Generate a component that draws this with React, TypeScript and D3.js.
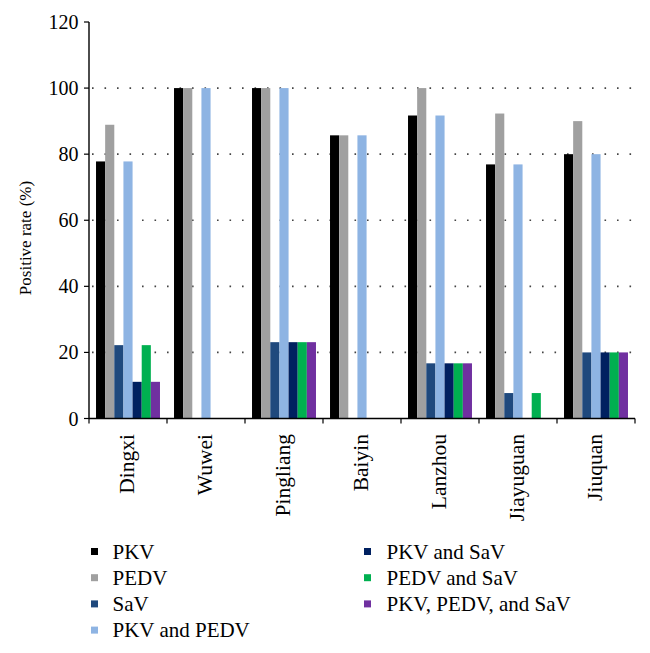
import React from "react";
import * as d3 from "d3";

const cities = ["Dingxi", "Wuwei", "Pingliang", "Baiyin", "Lanzhou", "Jiayuguan", "Jiuquan"];
const seriesNames = ["PKV", "PEDV", "SaV", "PKV and PEDV", "PKV and SaV", "PEDV and SaV", "PKV, PEDV, and SaV"];
const seriesColors = ["#000000", "#a0a0a0", "#1f497d", "#8eb4e3", "#002060", "#00b050", "#7030a0"];

const pkv = [77.8, 100, 100, 85.7, 91.7, 76.9, 80];
const pedv = [88.9, 100, 100, 85.7, 100, 92.3, 90];
const sav = [22.2, 0, 23.1, 0, 16.7, 7.7, 20];
const pkvPedv = [77.8, 100, 100, 85.7, 91.7, 76.9, 80];
const pkvSav = [11.1, 0, 23.1, 0, 16.7, 0, 20];
const pedvSav = [22.2, 0, 23.1, 0, 16.7, 7.7, 20];
const triple = [11.1, 0, 23.1, 0, 16.7, 0, 20];

const yTicks = [0, 20, 40, 60, 80, 100, 120];
const gridTicks = [20, 40, 60, 80, 100];

const seriesValues = [pkv, pedv, sav, pkvPedv, pkvSav, pedvSav, triple];

const W = 650;
const H = 653;
const X0 = 89;
const X1 = 635;
const YTOP = 22;
const YBOT = 418.5;
const FONT = '"Liberation Serif", "Times New Roman", serif';

export default function App() {
  const x = d3.scaleBand<string>().domain(cities).range([X0, X1]).paddingInner(0.18).paddingOuter(0.09);
  const xInner = d3.scaleBand<string>().domain(seriesNames).range([0, x.bandwidth()]).padding(0);
  const y = d3.scaleLinear().domain([0, 120]).range([YBOT, YTOP]);
  const step = x.step();
  const boundaries = d3.range(cities.length + 1).map((i) => X0 + i * step);

  const legendLeft = seriesNames.slice(0, 4);
  const legendRight = seriesNames.slice(4);
  const rowY = (i: number) => 551.5 + i * 26.2;
  const ts = { fontFamily: FONT };

  return (
    <div style={{ position: "absolute", left: 0, top: 0 }}>
      <svg width={W} height={H} style={{ display: "block", background: "#fff", fontFamily: FONT }}>
        <defs>
          <clipPath id="legendClip">
            <rect x={0} y={520} width={W} height={118.5} />
          </clipPath>
        </defs>
        {gridTicks.map((t) => (
          <line
            key={"g" + t}
            x1={X0 + 3}
            x2={X1}
            y1={y(t)}
            y2={y(t)}
            stroke="#444"
            strokeWidth={1.6}
            strokeDasharray="1.6 10.9"
          />
        ))}
        {cities.map((c, ci) => (
          <g key={c} transform={`translate(${x(c)},0)`}>
            {seriesNames.map((s, si) => {
              const v = seriesValues[si][ci];
              if (!v) return null;
              return (
                <rect
                  key={s}
                  x={xInner(s)}
                  y={y(v)}
                  width={xInner.bandwidth()}
                  height={YBOT - y(v)}
                  fill={seriesColors[si]}
                />
              );
            })}
          </g>
        ))}
        <line x1={X0} x2={X0} y1={YTOP} y2={YBOT} stroke="#000" strokeWidth={1.4} />
        {yTicks.map((t) => (
          <g key={"y" + t}>
            <line x1={X0 - 5} x2={X0} y1={y(t)} y2={y(t)} stroke="#000" strokeWidth={1.2} />
            <text x={78.5} y={y(t)} dy="0.35em" textAnchor="end" fontSize={20} fill="#000" style={ts}>
              {t}
            </text>
          </g>
        ))}
        <text
          transform={`translate(31,${238}) rotate(-90)`}
          textAnchor="middle"
          fontSize={17}
          fill="#000"
          style={ts}
        >
          Positive rate (%)
        </text>
        <line x1={X0} x2={X1} y1={YBOT} y2={YBOT} stroke="#000" strokeWidth={1.4} />
        {boundaries.map((b, i) => (
          <line key={"xt" + i} x1={b} x2={b} y1={YBOT} y2={YBOT + 5} stroke="#000" strokeWidth={1.2} />
        ))}
        {cities.map((c) => (
          <text
            key={"l" + c}
            transform={`translate(${x(c)! + x.bandwidth() / 2 - 2},${434}) rotate(-90)`}
            textAnchor="end"
            dy="0.35em"
            fontSize={21.5}
            fill="#000"
            style={ts}
          >
            {c}
          </text>
        ))}
        <g clipPath="url(#legendClip)">
          {legendLeft.map((s, i) => (
            <g key={"ll" + s}>
              <rect x={91} y={rowY(i) - 3.5} width={7} height={7} fill={seriesColors[i]} />
              <text x={112.5} y={rowY(i)} dy="0.35em" fontSize={21} fill="#000" style={ts}>
                {s}
              </text>
            </g>
          ))}
          {legendRight.map((s, i) => (
            <g key={"lr" + s}>
              <rect x={364} y={rowY(i) - 3.5} width={7} height={7} fill={seriesColors[i + 4]} />
              <text x={386.5} y={rowY(i)} dy="0.35em" fontSize={21} fill="#000" style={ts}>
                {s}
              </text>
            </g>
          ))}
        </g>
      </svg>
    </div>
  );
}
